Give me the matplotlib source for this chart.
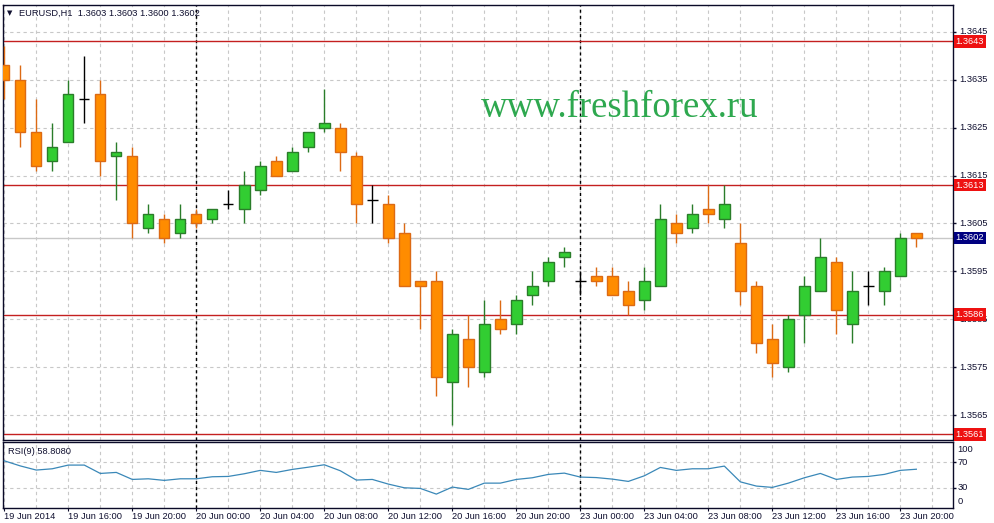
import matplotlib
matplotlib.use("Agg")
import matplotlib.pyplot as plt
from matplotlib.transforms import blended_transform_factory

plt.rcParams['font.family'] = ['Liberation Sans', 'DejaVu Sans']

# EURUSD H1 candles, 19 Jun 2014 12:00 .. 23 Jun 2014 21:00
opens = [1.3638, 1.3635, 1.3624, 1.3618, 1.3622, 1.3631, 1.3632, 1.3619, 1.3619, 1.3604,
         1.3606, 1.3603, 1.3607, 1.3606, 1.3609, 1.3608, 1.3612, 1.3618, 1.3616, 1.3621,
         1.3625, 1.3625, 1.3619, 1.3610, 1.3609, 1.3603, 1.3593, 1.3593, 1.3572, 1.3581,
         1.3574, 1.3585, 1.3584, 1.3590, 1.3593, 1.3598, 1.3593, 1.3594, 1.3594, 1.3591,
         1.3589, 1.3592, 1.3605, 1.3604, 1.3608, 1.3606, 1.3601, 1.3592, 1.3581, 1.3575,
         1.3586, 1.3591, 1.3597, 1.3584, 1.3592, 1.3591, 1.3594, 1.3603]
highs = [1.3642, 1.3638, 1.3631, 1.3626, 1.3635, 1.3640, 1.3635, 1.3622, 1.3621, 1.3609,
         1.3607, 1.3609, 1.3608, 1.3608, 1.3612, 1.3616, 1.3618, 1.3619, 1.3621, 1.3624,
         1.3633, 1.3626, 1.3620, 1.3613, 1.3611, 1.3605, 1.3593, 1.3595, 1.3583, 1.3586,
         1.3589, 1.3589, 1.3590, 1.3595, 1.3598, 1.3600, 1.3595, 1.3596, 1.3596, 1.3593,
         1.3596, 1.3609, 1.3607, 1.3609, 1.3613, 1.3613, 1.3605, 1.3593, 1.3584, 1.3586,
         1.3594, 1.3602, 1.3598, 1.3595, 1.3595, 1.3596, 1.3603, 1.3603]
lows = [1.3631, 1.3621, 1.3616, 1.3616, 1.3622, 1.3626, 1.3615, 1.3610, 1.3602, 1.3603,
        1.3601, 1.3602, 1.3604, 1.3605, 1.3608, 1.3605, 1.3611, 1.3615, 1.3616, 1.3620,
        1.3624, 1.3616, 1.3605, 1.3605, 1.3601, 1.3592, 1.3583, 1.3569, 1.3563, 1.3571,
        1.3573, 1.3582, 1.3582, 1.3588, 1.3592, 1.3596, 1.3590, 1.3592, 1.3590, 1.3586,
        1.3587, 1.3592, 1.3601, 1.3603, 1.3605, 1.3604, 1.3588, 1.3578, 1.3573, 1.3574,
        1.3580, 1.3591, 1.3582, 1.3580, 1.3588, 1.3588, 1.3594, 1.3600]
closes = [1.3635, 1.3624, 1.3617, 1.3621, 1.3632, 1.3631, 1.3618, 1.3620, 1.3605, 1.3607,
          1.3602, 1.3606, 1.3605, 1.3608, 1.3609, 1.3613, 1.3617, 1.3615, 1.3620, 1.3624,
          1.3626, 1.3620, 1.3609, 1.3610, 1.3602, 1.3592, 1.3592, 1.3573, 1.3582, 1.3575,
          1.3584, 1.3583, 1.3589, 1.3592, 1.3597, 1.3599, 1.3593, 1.3593, 1.3590, 1.3588,
          1.3593, 1.3606, 1.3603, 1.3607, 1.3607, 1.3609, 1.3591, 1.3580, 1.3576, 1.3585,
          1.3592, 1.3598, 1.3587, 1.3591, 1.3592, 1.3595, 1.3602, 1.3602]

rsi = [72, 64, 57.5, 59.5, 65.3, 65.3, 52.2, 53.8, 42.8, 43.8,
       41.3, 43.8, 43.8, 47, 47.5, 51.7, 57, 53.8, 58.5, 62,
       65.8, 56.4, 41.8, 42.8, 35.5, 29.7, 28.7, 19.8, 30.8, 27.2,
       37, 37, 42.8, 45.4, 50.7, 52.7, 46.5, 45.7, 43.3, 39.7,
       48.5, 61.6, 57, 59.5, 59.5, 63.7, 39, 32.4, 30.3, 37,
       45.4, 52.2, 42.8, 46.5, 47.5, 50.7, 57, 58.8]

time_labels = ["19 Jun 2014", "19 Jun 16:00", "19 Jun 20:00", "20 Jun 00:00",
               "20 Jun 04:00", "20 Jun 08:00", "20 Jun 12:00", "20 Jun 16:00",
               "20 Jun 20:00", "23 Jun 00:00", "23 Jun 04:00", "23 Jun 08:00",
               "23 Jun 12:00", "23 Jun 16:00", "23 Jun 20:00"]
day_starts = [12, 36]
levels = [1.3643, 1.3613, 1.3586, 1.3561]
bid = 1.3602
price_ticks = [1.3645, 1.3635, 1.3625, 1.3615, 1.3605, 1.3595, 1.3585, 1.3575, 1.3565]

# colours
bull_face, bull_edge = '#32cd32', '#2a7d2a'
bear_face, bear_edge = '#ff8c00', '#dc6a14'
grid_col = '#c8c8c8'
frame_col = '#0a0a28'
text_col = '#101030'
fs = 6.7


def main():
    W, H = 995, 523
    fig = plt.figure(figsize=(W / 100, H / 100), dpi=100)
    ax = fig.add_axes([3 / W, 1 - 440 / H, 950 / W, 435 / H])
    ax_rsi = fig.add_axes([3 / W, 1 - 508 / H, 950 / W, 66 / H])

    n = len(opens)
    xs = list(range(n))
    xlim = (-0.08, 59.29)
    bw = 0.65

    # ---- candles
    up = [i for i in xs if closes[i] > opens[i]]
    dn = [i for i in xs if closes[i] < opens[i]]
    dj = [i for i in xs if closes[i] == opens[i]]

    ax.vlines(up, [lows[i] for i in up], [highs[i] for i in up], color=bull_edge, lw=1, zorder=3)
    ax.vlines(dn, [lows[i] for i in dn], [highs[i] for i in dn], color=bear_edge, lw=1, zorder=3)
    ax.vlines(dj, [lows[i] for i in dj], [highs[i] for i in dj], color='black', lw=1, zorder=3)
    ax.hlines([opens[i] for i in dj], [i - bw / 2 for i in dj], [i + bw / 2 for i in dj],
              color='black', lw=1, zorder=3)

    ax.bar(up, [closes[i] - opens[i] for i in up], bottom=[opens[i] for i in up], width=bw,
           color=bull_face, edgecolor=bull_edge, linewidth=1, zorder=4)
    ax.bar(dn, [opens[i] - closes[i] for i in dn], bottom=[closes[i] for i in dn], width=bw,
           color=bear_face, edgecolor=bear_edge, linewidth=1, zorder=4)

    # ---- levels and bid line
    tr = blended_transform_factory(ax.transAxes, ax.transData)
    for lv in levels:
        ax.axhline(lv, color='#c42020', lw=1, zorder=2)
        ax.text(1.0025, lv, f"{lv:.4f}", transform=tr, ha='left', va='center',
                color='white', fontsize=fs, clip_on=False, zorder=10,
                bbox=dict(boxstyle='square,pad=0.2', fc='#ee1111', ec='none'))
    ax.axhline(bid, color='#c8c8c8', lw=1, zorder=1.5)
    ax.text(1.0025, bid, f"{bid:.4f}", transform=tr, ha='left', va='center',
            color='white', fontsize=fs, clip_on=False, zorder=10,
            bbox=dict(boxstyle='square,pad=0.2', fc='#000080', ec='none'))

    ax.set_xlim(*xlim)
    ax.set_ylim(1.355985, 1.365056)
    ax.set_xticks(range(0, 60, 2))
    ax.set_yticks(price_ticks)
    ax.set_yticklabels([f"{p:.4f}" for p in price_ticks], va='center')
    ax.yaxis.tick_right()
    ax.tick_params(axis='x', length=0, labelbottom=False)
    ax.tick_params(axis='y', direction='out', length=2.2, width=1, pad=2,
                   labelsize=fs, colors=frame_col, labelcolor=text_col)
    ax.grid(True, color=grid_col, ls=(0, (3, 3)), lw=0.8, zorder=0)
    for d in day_starts:
        ax.axvline(d, color='black', ls=(0, (2.2, 2.2)), lw=1, zorder=1.8)

    # ---- RSI panel
    ax_rsi.plot(xs, rsi, color='#3a88b8', lw=0.9, zorder=3)
    ax_rsi.set_xlim(*xlim)
    ax_rsi.set_ylim(-2, 101.5)
    ax_rsi.set_yticks([70, 30])
    ax_rsi.set_yticklabels(["70", "30"], va='center')
    ax_rsi.yaxis.tick_right()
    ax_rsi.tick_params(axis='y', direction='out', length=2.2, width=1, pad=1,
                       labelsize=fs, colors=frame_col, labelcolor=text_col)
    tr2 = blended_transform_factory(ax_rsi.transAxes, ax_rsi.transData)
    ax_rsi.text(1.0045, 90, "100", transform=tr2, ha='left', va='center',
                fontsize=fs, color=text_col, clip_on=False)
    ax_rsi.text(1.0045, 8, "0", transform=tr2, ha='left', va='center',
                fontsize=fs, color=text_col, clip_on=False)
    ax_rsi.set_xticks(range(0, 58, 4))
    ax_rsi.set_xticklabels(time_labels, ha='left', va='top')
    ax_rsi.set_xticks(range(2, 60, 4), minor=True)
    ax_rsi.tick_params(axis='x', which='major', direction='out', length=2, pad=0.8,
                       labelsize=fs, colors=frame_col, labelcolor=text_col)
    ax_rsi.tick_params(axis='x', which='minor', length=0)
    ax_rsi.grid(True, which='both', color=grid_col, ls=(0, (3, 3)), lw=0.8, zorder=0)
    for d in day_starts:
        ax_rsi.axvline(d, color='black', ls=(0, (2.2, 2.2)), lw=1, zorder=1.8)
    ax_rsi.text(0.0055, 0.86, "RSI(9) 58.8080", transform=ax_rsi.transAxes,
                ha='left', va='center', fontsize=fs, color=text_col)

    for a in (ax, ax_rsi):
        for s in a.spines.values():
            s.set_color(frame_col)
            s.set_linewidth(1)

    # ---- header and watermark
    fig.text(10 / W, 1 - 13 / H, "\u25bc", fontsize=5, color=text_col,
             family='DejaVu Sans', ha='center', va='center')
    fig.text(19 / W, 1 - 13 / H, "EURUSD,H1  1.3603 1.3603 1.3600 1.3602",
             fontsize=fs, color=text_col, ha='left', va='center')
    fig.text(620 / W, 1 - 117 / H, "www.freshforex.ru", fontsize=26.5,
             family='Liberation Serif', color='#2ea84f', ha='center', va='baseline')

    fig.savefig("out.png", dpi=100)


if __name__ == "__main__":
    main()
